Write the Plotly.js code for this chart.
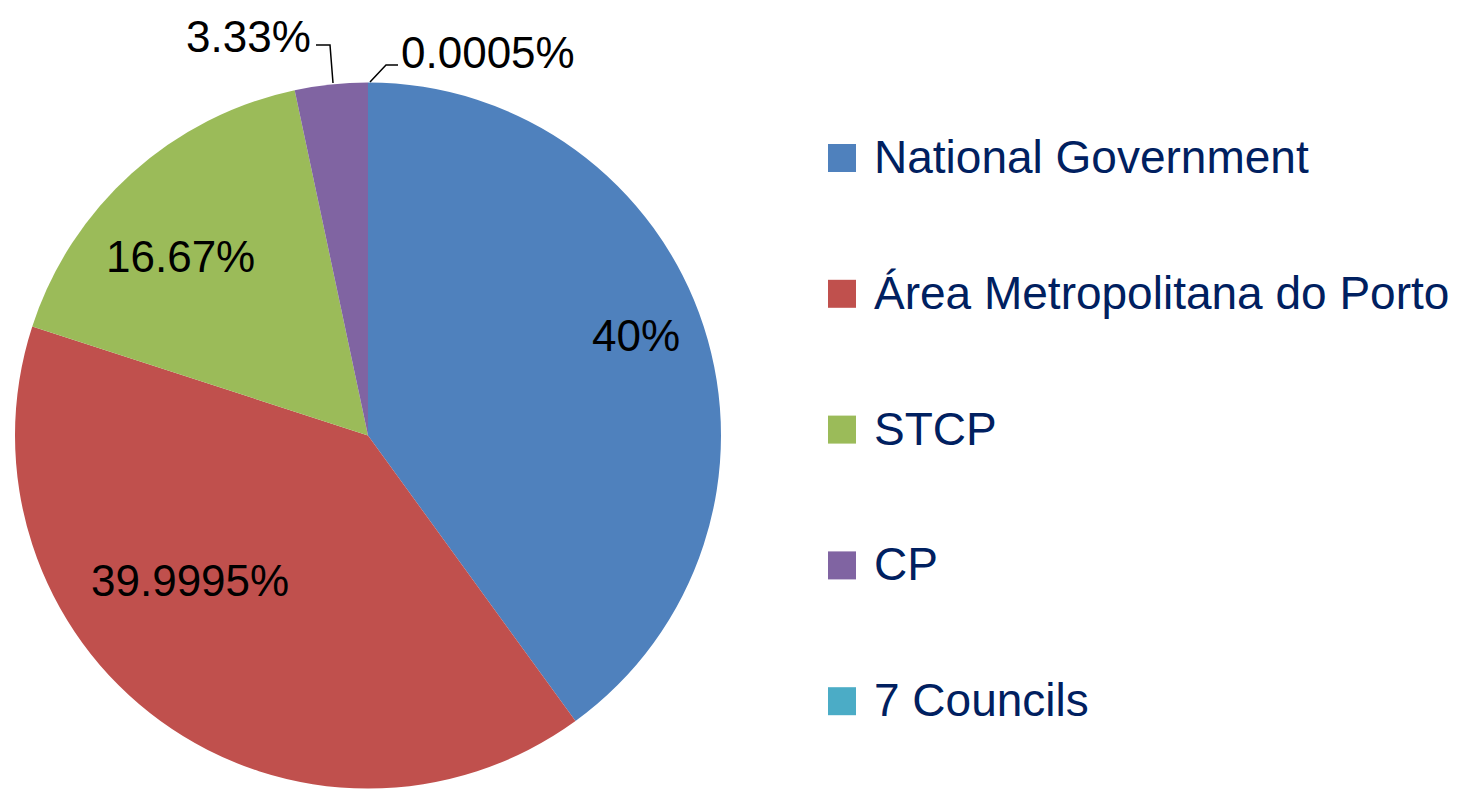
<!DOCTYPE html>
<html>
<head>
<meta charset="utf-8">
<script src="https://cdn.plot.ly/plotly-3.0.1.min.js"></script>
<style>html,body{margin:0;padding:0;background:#fff;}#chart{width:1464px;height:789px;}</style>
</head>
<body>
<div id="chart"></div>
<script>
const categories = ["National Government", "Área Metropolitana do Porto", "STCP", "CP", "7 Councils"];
const shares = [40, 39.9995, 16.67, 3.33, 0.0005];
const colors = ["#4F81BD", "#C0504D", "#9BBB59", "#8064A2", "#4BACC6"];

const W = 1464, H = 789;
const px = x => x / W;
const py = y => 1 - y / H;

// label placement (pixel positions, style only)
const labelPos = [[636, 335], [190, 580], [180, 256], [248, 37], [488, 53]];
const leaderPaths = [null, null, null,
  [[333, 83], [330, 45], [316, 45]],
  [[370, 82], [386, 65], [398, 65]]];

const labelFont = {family: "Liberation Sans, Arial, sans-serif", size: 44, color: "#000000"};
const legendFont = {family: "Liberation Sans, Arial, sans-serif", size: 46, color: "#002060"};

const annotations = [];
const shapes = [];
shares.forEach((v, i) => {
  annotations.push({
    xref: "paper", yref: "paper", x: px(labelPos[i][0]), y: py(labelPos[i][1]),
    xanchor: "center", yanchor: "middle", showarrow: false,
    text: String(v) + "%", font: labelFont
  });
  if (leaderPaths[i]) {
    const p = leaderPaths[i].map((pt, k) => (k === 0 ? "M" : "L") + px(pt[0]) + "," + py(pt[1])).join(" ");
    shapes.push({type: "path", xref: "paper", yref: "paper", path: p, line: {color: "#000000", width: 1.5}});
  }
});

categories.forEach((c, i) => {
  const cy = 158 + 135.8 * i;
  shapes.push({type: "rect", xref: "paper", yref: "paper",
    x0: px(828), x1: px(856), y0: py(cy + 14), y1: py(cy - 14),
    fillcolor: colors[i], line: {width: 0}});
  annotations.push({xref: "paper", yref: "paper", x: px(872), y: py(cy - 1),
    xanchor: "left", yanchor: "middle", showarrow: false, text: c, font: legendFont});
});

const trace = {
  type: "pie",
  labels: categories,
  values: shares,
  sort: false,
  direction: "clockwise",
  rotation: 0,
  marker: {colors: colors, line: {width: 0}},
  textinfo: "none",
  hoverinfo: "label+percent",
  domain: {x: [px(15), px(721)], y: [0, py(82)]}
};

const layout = {
  width: W, height: H,
  margin: {l: 0, r: 0, t: 0, b: 0},
  paper_bgcolor: "#ffffff",
  showlegend: false,
  annotations: annotations,
  shapes: shapes
};

Plotly.newPlot("chart", [trace], layout, {displayModeBar: false, staticPlot: true});
</script>
</body>
</html>
